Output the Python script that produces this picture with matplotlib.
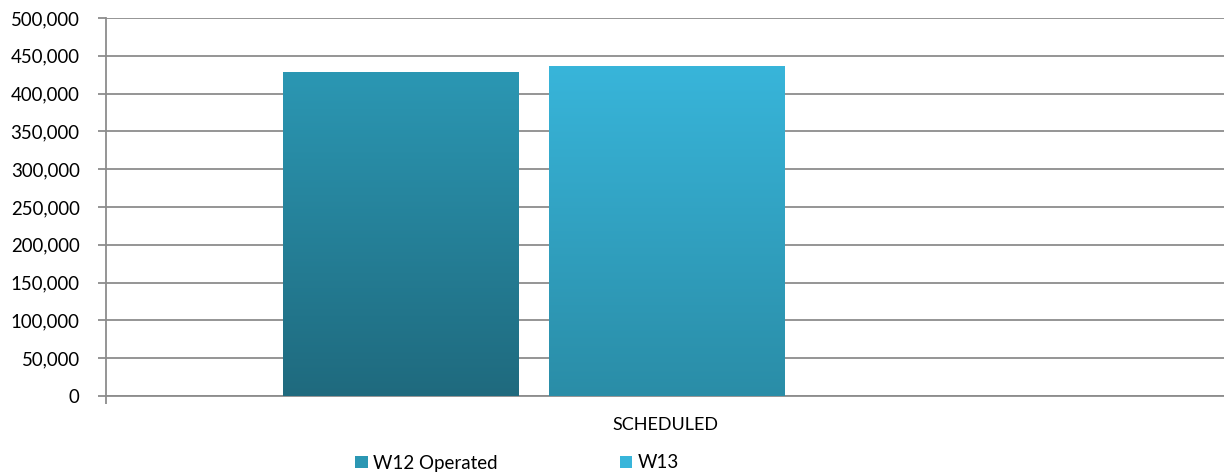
import matplotlib
matplotlib.use('Agg')
import matplotlib.pyplot as plt
import numpy as np
from matplotlib.colors import LinearSegmentedColormap
from matplotlib.patches import Patch
from matplotlib.ticker import FuncFormatter, MultipleLocator

plt.rcParams['font.family'] = ['Lato', 'DejaVu Sans']

# data
categories = ['SCHEDULED']
series_names = ['W12 Operated', 'W13']
w12_operated = [428000]
w13 = [436500]

# colours: (top, bottom) of each gradient
grad_colors = [('#2b97b3', '#1f6a7e'), ('#38b5da', '#2a8da7')]

fig = plt.figure(figsize=(12.24, 4.76), dpi=100)
ax = fig.add_axes([106 / 1224, 1 - 396 / 476, 1 - 106 / 1224, (396 - 18) / 476])

x = np.arange(len(categories))
bar_w = 0.211
offsets = [-0.236, 0.002]

handles = []
for i, vals in enumerate([w12_operated, w13]):
    top, bottom = grad_colors[i]
    cmap = LinearSegmentedColormap.from_list('g%d' % i, [bottom, top])
    bars = ax.bar(x + offsets[i], vals, width=bar_w, color=top, zorder=3)
    for b in bars:
        x0, y0 = b.get_x(), b.get_y()
        x1, y1 = x0 + b.get_width(), y0 + b.get_height()
        grad = np.linspace(0, 1, 256).reshape(-1, 1)
        im = ax.imshow(grad, cmap=cmap, origin='lower', aspect='auto',
                       extent=(x0, x1, y0, y1), zorder=4)
        im.set_clip_path(b)
    handles.append(Patch(facecolor=top, edgecolor=bottom, linewidth=0.0))

ax.set_xlim(-0.5, 0.5)
ax.set_ylim(0, 500000)
ax.yaxis.set_major_locator(MultipleLocator(50000))
ax.yaxis.set_major_formatter(FuncFormatter(lambda v, p: f'{int(v):,}'))
ax.grid(axis='y', color='#8c8c8c', linewidth=1.3, zorder=0)
ax.set_axisbelow(True)

ax.set_xticks(x)
ax.set_xticklabels(categories, fontsize=13)
ax.tick_params(axis='x', length=0, pad=15)
ax.set_xticks([-0.5], minor=True)
ax.tick_params(axis='x', which='minor', length=6, width=1.3, color='#8c8c8c')
ax.tick_params(axis='y', length=6, width=1.3, color='#8c8c8c', labelsize=13.4, pad=13)

for s in ['top', 'right']:
    ax.spines[s].set_visible(False)
ax.spines['left'].set_color('#8c8c8c')
ax.spines['left'].set_linewidth(1.3)
ax.spines['bottom'].set_color('#8c8c8c')
ax.spines['bottom'].set_linewidth(1.3)

fig.legend(handles, series_names, loc='center left', bbox_to_anchor=(346 / 1224, 1 - 463 / 476),
           ncol=2, frameon=False, fontsize=13.5, handlelength=0.65, handleheight=0.65,
           handletextpad=0.3, columnspacing=6.5, borderpad=0)

fig.savefig('out.png', dpi=100)
